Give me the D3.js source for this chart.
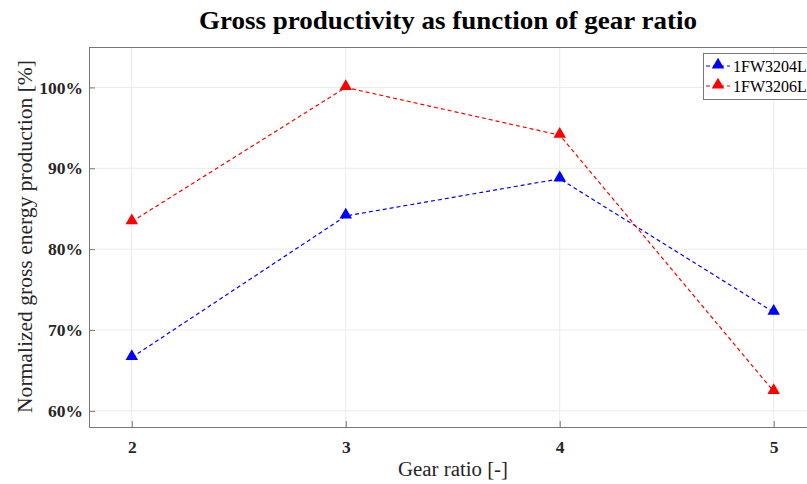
<!DOCTYPE html>
<html><head><meta charset="utf-8">
<script src="https://cdn.jsdelivr.net/npm/d3@7"></script>
<style>body{margin:0;background:#fff;} svg{display:block;}</style>
</head><body>
<svg id="c" width="807" height="484"></svg>
<script>
const gearRatios = [2, 3, 4, 5];
const series1Name = "1FW3204L";
const series1 = [66.6, 84.1, 88.7, 72.2];
const series2Name = "1FW3206L";
const series2 = [83.4, 100.0, 94.1, 62.4];
const yTicks = [60, 70, 80, 90, 100];
const titleText = "Gross productivity as function of gear ratio";
const xLabel = "Gear ratio [-]";
const yLabel = "Normalized gross energy production [%]";

const FONT = "'Palatino Linotype','Book Antiqua',Palatino,'Liberation Serif','DejaVu Serif',serif";
const svg = d3.select("#c");
const m = {l: 89, t: 47, r: 809, b: 427};
const x = d3.scaleLinear().domain([1.8, 5.165]).range([m.l, m.r]);
const y = d3.scaleLinear().domain([58, 105]).range([m.b, m.t]);

// grid
const g = svg.append("g");
g.selectAll(".gx").data(gearRatios).enter().append("line")
  .attr("x1", d => x(d)).attr("x2", d => x(d)).attr("y1", m.t).attr("y2", m.b)
  .attr("stroke", "#ebebeb").attr("stroke-width", 1);
g.selectAll(".gy").data(yTicks).enter().append("line")
  .attr("x1", m.l).attr("x2", m.r).attr("y1", d => y(d)).attr("y2", d => y(d))
  .attr("stroke", "#ebebeb").attr("stroke-width", 1);

// axes
const xAxis = d3.axisBottom(x).tickValues(gearRatios).tickSizeInner(-6).tickSizeOuter(0).tickPadding(14).tickFormat(d3.format("d"));
const yAxis = d3.axisLeft(y).tickValues(yTicks).tickSizeInner(-6).tickSizeOuter(0).tickPadding(6).tickFormat(d => d + "%");
const xa = svg.append("g").attr("transform", `translate(0,${m.b})`).call(xAxis);
const ya = svg.append("g").attr("transform", `translate(${m.l},0)`).call(yAxis);
[xa, ya].forEach(a => {
  a.select(".domain").attr("stroke", "#777");
  a.selectAll(".tick line").attr("stroke", "#777");
  a.selectAll("text").attr("font-family", FONT).attr("font-size", 17.5).attr("font-weight", "bold").attr("fill", "#262626");
});
// top border
svg.append("line").attr("x1", m.l).attr("x2", m.r).attr("y1", m.t + 0.5).attr("y2", m.t + 0.5).attr("stroke", "#777");

// series
const line = d3.line().x((d, i) => x(gearRatios[i])).y(d => y(d));
const tri = d3.symbol().type(d3.symbolTriangle).size(68);
[[series1, "#0000ff"], [series2, "#ff0000"]].forEach(([s, c]) => {
  svg.append("path").datum(s).attr("d", line).attr("fill", "none")
    .attr("stroke", c).attr("stroke-width", 1.2).attr("stroke-dasharray", "4,3");
  svg.selectAll(null).data(s).enter().append("path")
    .attr("d", tri).attr("fill", c)
    .attr("transform", (d, i) => `translate(${x(gearRatios[i])},${y(d) - 1})`);
});

// title & labels
svg.append("text").attr("x", 448).attr("y", 29).attr("text-anchor", "middle")
  .attr("font-family", FONT).attr("font-size", 25).attr("font-weight", "bold").attr("fill", "#000")
  .attr("textLength", 498).attr("lengthAdjust", "spacingAndGlyphs").text(titleText);
svg.append("text").attr("x", 453).attr("y", 476).attr("text-anchor", "middle")
  .attr("font-family", FONT).attr("font-size", 20).attr("fill", "#262626")
  .attr("textLength", 110).attr("lengthAdjust", "spacingAndGlyphs").text(xLabel);
svg.append("text").attr("transform", `translate(32,236.5) rotate(-90)`).attr("text-anchor", "middle")
  .attr("font-family", FONT).attr("font-size", 20).attr("fill", "#262626")
  .attr("textLength", 353).attr("lengthAdjust", "spacingAndGlyphs").text(yLabel);

// legend
const lg = svg.append("g").attr("transform", "translate(703,53)");
lg.append("rect").attr("x", 0.5).attr("y", 0.5).attr("width", 110).attr("height", 46)
  .attr("fill", "#fff").attr("stroke", "#777");
[[series1Name, "#0000ff"], [series2Name, "#ff0000"]].forEach(([n, c], i) => {
  const yy = 13 + i * 20;
  lg.append("line").attr("x1", 3).attr("x2", 27).attr("y1", yy).attr("y2", yy)
    .attr("stroke", c).attr("stroke-width", 1.2).attr("stroke-dasharray", "4,3");
  lg.append("path").attr("d", tri).attr("fill", c).attr("transform", `translate(15,${yy - 1})`);
  lg.append("text").attr("x", 30).attr("y", yy + 6).attr("font-family", FONT).attr("font-size", 16)
    .attr("fill", "#000").text(n);
});
</script>
</body></html>
